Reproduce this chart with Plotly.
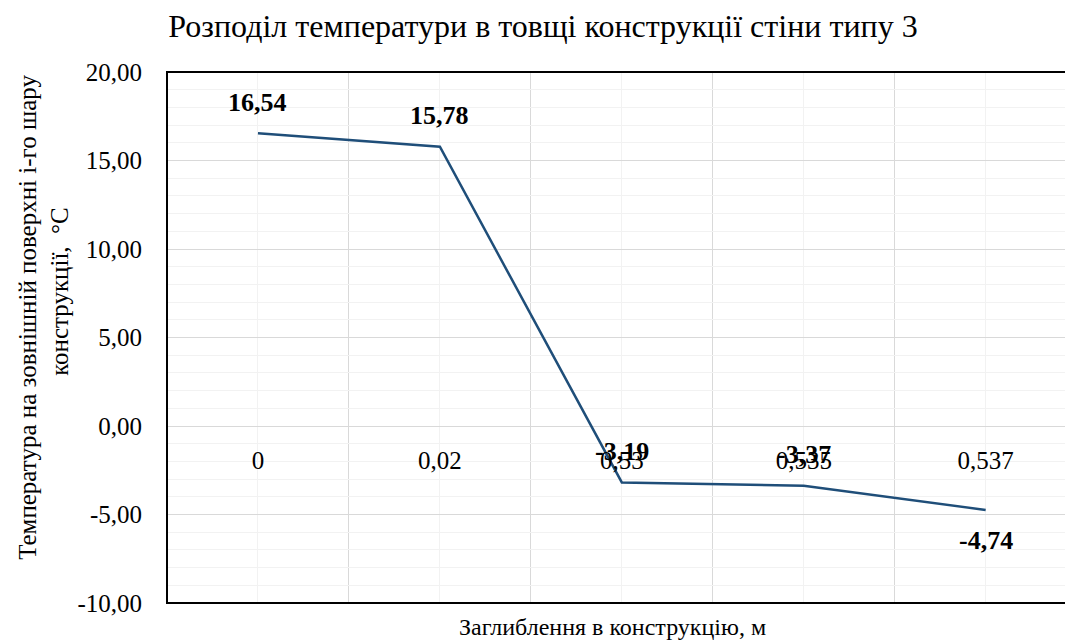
import plotly.graph_objects as go

depths = ["0", "0,02", "0,53", "0,535", "0,537"]
temps = [16.54, 15.78, -3.19, -3.37, -4.74]
label_side = ["top", "top", "top", "top", "bottom"]
y_ticks = [-10, -5, 0, 5, 10, 15, 20]

FONT = "Liberation Serif, Times New Roman, serif"
y_min, y_max = -10, 20
xs = list(range(len(depths)))


def fmt(v):
    return f"{v:.2f}".replace(".", ",")


fig = go.Figure()
fig.add_trace(go.Scatter(
    x=xs, y=temps, mode="lines",
    line=dict(color="#1F4E79", width=2.5),
    showlegend=False, hoverinfo="skip"
))

# bold value labels above/below each point
for x, t, side in zip(xs, temps, label_side):
    fig.add_annotation(
        x=x, y=t, text=f"<b>{fmt(t)}</b>", showarrow=False,
        yshift=31 if side == "top" else -31,
        font=dict(family=FONT, size=26, color="black")
    )

# page body has an 8px margin, so the figure is 8px smaller each way
fig.update_layout(
    width=1065, height=633,
    margin=dict(l=159, r=0, t=64, b=38),
    paper_bgcolor="white", plot_bgcolor="white",
    font=dict(family=FONT, color="black"),
    title=dict(
        text="Розподіл температури в товщі конструкції стіни типу 3",
        xref="container", x=535 / 1065, xanchor="center",
        y=1 - 18 / 633, yanchor="middle",
        font=dict(family=FONT, size=32, color="black")
    ),
    xaxis=dict(
        range=[-0.5, 4.48],
        tickmode="array", tickvals=xs, ticktext=depths,
        showgrid=True, gridcolor="#F2F2F2", gridwidth=1,
        minor=dict(tickmode="linear", tick0=0.5, dtick=1, showgrid=True,
                   gridcolor="#D9D9D9", gridwidth=1),
        anchor="free", position=(0 - y_min) / (y_max - y_min),
        showline=False, zeroline=False, ticks="",
        ticklabelstandoff=17,
        tickfont=dict(family=FONT, size=25, color="black"),
    ),
    yaxis=dict(
        range=[y_min, y_max],
        tickmode="array", tickvals=y_ticks, ticktext=[fmt(v) for v in y_ticks],
        showgrid=True, gridcolor="#D9D9D9", gridwidth=1,
        minor=dict(tickmode="linear", tick0=0, dtick=1, showgrid=True,
                   gridcolor="#F2F2F2", gridwidth=1),
        zeroline=False, showline=False, ticks="",
        ticklabelstandoff=24,
        tickfont=dict(family=FONT, size=25, color="black"),
    ),
)

# frame (right side runs off the chart)
fig.add_shape(type="rect", xref="paper", yref="paper",
              x0=0, x1=1.02, y0=0, y1=1,
              line=dict(color="black", width=2), layer="above")

fig.add_annotation(
    text="Заглиблення в конструкцію, м", xref="paper", yref="paper",
    x=0.492, y=0, yshift=-24, yanchor="middle", showarrow=False,
    font=dict(family=FONT, size=24, color="black")
)
fig.add_annotation(
    text="Температура на зовнішній поверхні і-го шару",
    xref="paper", yref="paper", x=0, y=0.537, xshift=-139,
    xanchor="center", yanchor="middle", textangle=-90, showarrow=False,
    font=dict(family=FONT, size=25, color="black")
)
fig.add_annotation(
    text="конструкції,  °С",
    xref="paper", yref="paper", x=0, y=0.586, xshift=-107,
    xanchor="center", yanchor="middle", textangle=-90, showarrow=False,
    font=dict(family=FONT, size=25, color="black")
)

fig.write_html("out.html")
